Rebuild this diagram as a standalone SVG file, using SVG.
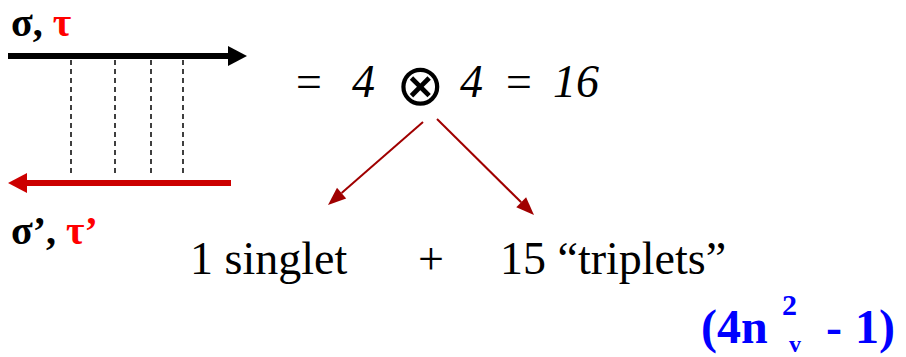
<svg xmlns="http://www.w3.org/2000/svg" width="906" height="357" viewBox="0 0 906 357">
<rect width="906" height="357" fill="#fff"/>
<g id="propagator-top">
<line x1="8" y1="56" x2="230" y2="56" stroke="#000" stroke-width="6"/>
<polygon points="228,46 247,56 228,66" fill="#000"/>
<text font-family="serif" font-weight="bold" x="11" y="36" font-size="40"><tspan fill="#000">σ, </tspan><tspan fill="#ff0000">τ</tspan></text>
</g>
<g id="propagator-bottom">
<line x1="231" y1="183" x2="26" y2="183" stroke="#cc0000" stroke-width="6"/>
<polygon points="27,173 8,183 27,193" fill="#cc0000"/>
<text font-family="serif" font-weight="bold" x="11" y="244" font-size="40"><tspan fill="#000">σ’, </tspan><tspan fill="#ff0000">τ’</tspan></text>
</g>
<g id="exchange" stroke="#000" stroke-width="1.5" stroke-dasharray="5 4">
<line x1="71" y1="60" x2="71" y2="176"/>
<line x1="115" y1="60" x2="115" y2="176"/>
<line x1="151" y1="60" x2="151" y2="176"/>
<line x1="183" y1="60" x2="183" y2="176"/>
</g>
<g id="equation">
<text font-family="serif" font-style="italic" font-size="46" x="293" y="97">=</text>
<text font-family="serif" font-style="italic" font-size="46" x="352" y="97">4</text>
<text font-family="serif" font-size="58" x="420" y="105" text-anchor="middle">⊗</text>
<text font-family="serif" font-style="italic" font-size="46" x="460" y="97">4</text>
<text font-family="serif" font-style="italic" font-size="46" x="503" y="97">=</text>
<text font-family="serif" font-style="italic" font-size="46" x="553" y="97">16</text>
</g>
<g id="connectors" fill="#a00000">
<line x1="423" y1="122" x2="341.6" y2="193.1" stroke="#a00000" stroke-width="2"/>
<polygon points="328,205 346.2,198.4 337,187.8"/>
<line x1="437" y1="119" x2="521.2" y2="202.3" stroke="#a00000" stroke-width="2"/>
<polygon points="534,215 516.3,207.3 526.1,197.3"/>
</g>
<g id="singlet">
<text font-family="serif" font-size="46" x="190" y="274">1 singlet</text>
</g>
<g id="plus">
<text font-family="serif" font-size="46" x="418" y="274">+</text>
</g>
<g id="triplets">
<text font-family="serif" font-size="46" x="500" y="274">15 “triplets”</text>
</g>
<g id="count">
<text font-family="serif" font-weight="bold" fill="#0000ff" x="701" y="343" font-size="48">(4n</text>
<text font-family="serif" font-weight="bold" fill="#0000ff" x="782" y="315" font-size="30">2</text>
<text font-family="serif" font-weight="bold" fill="#0000ff" x="789" y="352" font-size="24">v</text>
<text font-family="serif" font-weight="bold" fill="#0000ff" x="826" y="343" font-size="48">-</text>
<text font-family="serif" font-weight="bold" fill="#0000ff" x="855" y="343" font-size="48">1)</text>
</g>
</svg>
